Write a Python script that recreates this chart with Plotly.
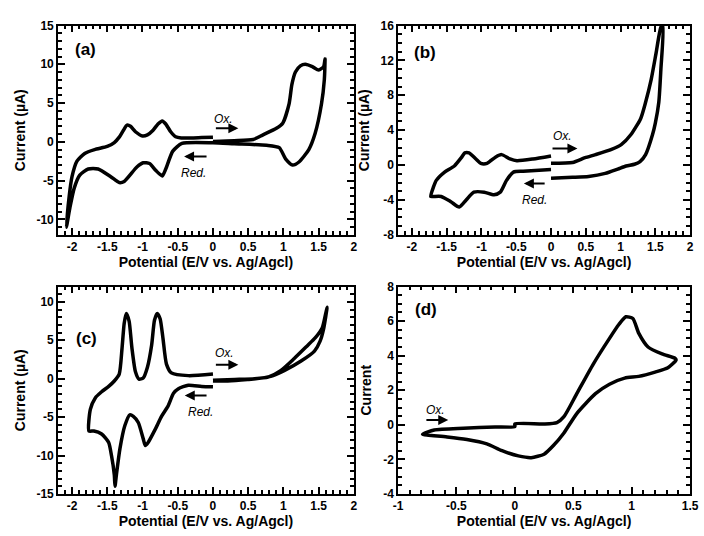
import plotly.graph_objects as go

# ---------------- data (E in V, current in uA) ----------------
a_x = [0, 0.3, 0.57, 0.71, 0.9, 0.99, 1.08, 1.12, 1.17, 1.24, 1.31, 1.41, 1.5, 1.57, 1.59,
       1.59, 1.58, 1.54, 1.45, 1.36, 1.22, 1.13, 1.03, 0.94, 0.76, 0.3, 0, -0.44, -0.57, -0.67,
       -0.72, -0.81, -0.9, -0.99, -1.08, -1.26, -1.33, -1.45, -1.63, -1.77, -1.89, -1.97, -2.03, -2.08,
       -2.04, -2.0, -1.93, -1.82, -1.68, -1.5, -1.4, -1.33, -1.27, -1.22, -1.17, -1.1, -1.0, -0.93,
       -0.85, -0.78, -0.72, -0.67, -0.6, -0.53, -0.45, -0.16, 0]
a_y = [0.05, 0.15, 0.3, 0.9, 1.75, 2.4, 4.9, 7.4, 9.0, 9.8, 10.0, 9.7, 9.25, 9.7, 10.7,
       10.5, 8.0, 4.9, 1.1, -1.0, -2.6, -3.0, -2.2, -0.75, -0.45, -0.25, -0.12, -0.2, -1.2, -3.5,
       -4.4, -3.7, -2.8, -2.7, -3.25, -5.1, -5.25, -4.5, -3.5, -3.5, -4.3, -6.0, -8.5, -11.0,
       -7.0, -4.5, -2.5, -1.5, -1.0, -0.6, -0.1, 0.6, 1.5, 2.15, 2.0, 1.3, 0.75, 0.9,
       1.5, 2.3, 2.7, 2.3, 1.3, 0.65, 0.5, 0.55, 0.6]

b_neg_x = [0, -0.26, -0.49, -0.59, -0.71, -0.8, -0.92, -1.01, -1.08, -1.18, -1.24, -1.29, -1.39,
           -1.53, -1.65, -1.69, -1.73, -1.69, -1.58, -1.44, -1.32, -1.22, -1.11, -0.96, -0.82,
           -0.73, -0.64, -0.54, -0.4, 0]
b_neg_y = [1.05, 0.7, 0.5, 0.7, 1.2, 0.9, 0.2, 0.2, 0.7, 1.4, 1.4, 0.85, -0.1,
           -0.8, -1.75, -2.5, -3.6, -3.6, -3.6, -4.2, -4.8, -4.0, -3.1, -3.1, -3.4,
           -3.1, -1.75, -0.8, -0.7, -0.5]
b_pos_x = [0, 0.31, 0.49, 0.64, 0.87, 1.01, 1.15, 1.29, 1.36, 1.44, 1.51, 1.58, 1.61,
           1.58, 1.55, 1.5, 1.46, 1.36, 1.28, 1.2, 1.08, 0.96, 0.78, 0.54, 0.31, 0]
b_pos_y = [0.2, 0.3, 0.85, 1.2, 1.8, 2.35, 3.5, 5.35, 7.2, 9.8, 12.8, 15.8, 16.0,
           11.0, 7.2, 4.8, 3.5, 1.2, 0.4, 0.1, -0.1, -0.45, -0.95, -1.3, -1.4, -1.5]

c_neg_x = [0, -0.35, -0.59, -0.66, -0.71, -0.75, -0.79, -0.83, -0.87, -0.93, -0.99, -1.05,
           -1.1, -1.15, -1.19, -1.23, -1.26, -1.29, -1.33, -1.4, -1.48, -1.58, -1.67, -1.74, -1.76,
           -1.69, -1.58, -1.48, -1.44, -1.4, -1.39, -1.37, -1.32, -1.25, -1.18, -1.13, -1.06,
           -0.99, -0.96, -0.92, -0.82, -0.73, -0.64, -0.56, -0.49, -0.35, -0.16, 0]
c_neg_y = [0.6, 0.4, 0.75, 1.9, 5.3, 7.8, 8.5, 7.6, 4.4, 1.5, 0.1, -0.05,
           0.9, 4.0, 7.5, 8.5, 7.2, 4.0, 0.6, -0.3, -1.0, -1.7, -2.5, -4.0, -6.8,
           -6.8, -7.2, -8.3, -10.0, -12.5, -14.0, -12.5, -9.1, -6.1, -4.7, -4.9, -5.7,
           -7.8, -8.7, -8.3, -6.6, -4.9, -3.6, -1.9, -1.3, -0.85, -1.0, -1.05]
c_pos_x = [0, 0.31, 0.59, 0.82, 1.01, 1.25, 1.44, 1.52, 1.57, 1.62,
           1.6, 1.55, 1.45, 1.34, 1.15, 0.96, 0.78, 0.49, 0.21, 0]
c_pos_y = [-0.2, -0.1, 0.0, 0.3, 1.05, 2.3, 3.6, 4.9, 6.5, 9.3,
           8.5, 6.6, 5.3, 4.3, 2.6, 1.05, 0.2, -0.1, -0.3, -0.3]

d_x = [-0.79, -0.69, -0.44, -0.17, 0, 0, 0.25, 0.36, 0.42, 0.53, 0.67, 0.81, 0.89, 0.95, 1.01,
       1.06, 1.14, 1.26, 1.37, 1.38, 1.31, 1.2, 1.06, 0.94, 0.81, 0.69, 0.53, 0.42, 0.33, 0.25,
       0.14, 0.03, -0.11, -0.24, -0.41, -0.58, -0.74, -0.79]
d_y = [-0.55, -0.3, -0.2, -0.13, -0.1, 0.05, 0.05, 0.13, 0.47, 1.8, 3.5, 5.0, 5.8, 6.25, 6.15,
       5.3, 4.5, 4.1, 3.85, 3.75, 3.3, 3.05, 2.8, 2.7, 2.35, 1.8, 0.65, -0.47, -1.2, -1.7,
       -1.9, -1.8, -1.5, -1.1, -0.85, -0.7, -0.6, -0.55]

# tick labels
x_ticks_abc = [-2, -1.5, -1, -0.5, 0, 0.5, 1, 1.5, 2]
x_ticks_d = [-1, -0.5, 0, 0.5, 1, 1.5]
y_ticks_a = [-10, -5, 0, 5, 10, 15]
y_ticks_b = [-8, -4, 0, 4, 8, 12, 16]
y_ticks_c = [-15, -10, -5, 0, 5, 10]
y_ticks_d = [-4, -2, 0, 2, 4, 6, 8]

panel_labels = ["(a)", "(b)", "(c)", "(d)"]
x_title = "Potential (E/V vs. Ag/Agcl)"
y_titles = ["Current (µA)", "Current (µA)", "Current (µA)", "Current"]

FONT = "Liberation Sans"
fig = go.Figure()
line = dict(color="black", width=3.5, shape="spline", smoothing=0.6)

def add(x, y, n):
    fig.add_trace(go.Scatter(x=x, y=y, mode="lines", line=line,
                             xaxis="x" if n == 1 else f"x{n}",
                             yaxis="y" if n == 1 else f"y{n}",
                             showlegend=False, hoverinfo="skip"))

add(a_x, a_y, 1)
add(b_neg_x, b_neg_y, 2)
add(b_pos_x, b_pos_y, 2)
add(c_neg_x, c_neg_y, 3)
add(c_pos_x, c_pos_y, 3)
add(d_x, d_y, 4)

left = [54 / 704, 356 / 704]
right = [401 / 704, 699 / 704]
top = [1 - 234 / 536, 1 - 19 / 536]
bot = [1 - 500 / 536, 1 - 287 / 536]

def fmt(v):
    return f"{v:g}"

def ax(domain, rng, anchor, ticks, minor, title, standoff):
    return dict(domain=domain, range=rng, anchor=anchor,
                tickmode="array", tickvals=ticks, ticktext=[fmt(v) for v in ticks],
                showline=True, linecolor="black", linewidth=1.5, mirror="allticks",
                ticks="inside", ticklen=7, tickwidth=2, tickcolor="black",
                minor=dict(ticks="inside", ticklen=4, tickwidth=1.5, tickcolor="black",
                           tickmode="linear", dtick=minor, tick0=0),
                showgrid=False, zeroline=False,
                tickfont=dict(family=FONT, size=12, color="black", weight="bold"),
                title=dict(text=title, standoff=standoff,
                           font=dict(family=FONT, size=14, color="black", weight="bold")))

fig.update_layout(
    width=704, height=536, margin=dict(l=0, r=0, t=0, b=0),
    paper_bgcolor="white", plot_bgcolor="white",
    xaxis=ax(left, [-2.2, 2], "y", x_ticks_abc, 0.1, x_title, 3),
    yaxis=ax(top, [-12, 15], "x", y_ticks_a, 1, y_titles[0], 8),
    xaxis2=ax(right, [-2.2, 2], "y2", x_ticks_abc, 0.1, x_title, 3),
    yaxis2=ax(top, [-8, 16], "x2", y_ticks_b, 1, y_titles[1], 8),
    xaxis3=ax(left, [-2.2, 2], "y3", x_ticks_abc, 0.1, x_title, 3),
    yaxis3=ax(bot, [-15, 12], "x3", y_ticks_c, 1, y_titles[2], 8),
    xaxis4=ax(right, [-1, 1.5], "y4", x_ticks_d, 0.1, x_title, 3),
    yaxis4=ax(bot, [-4, 8], "x4", y_ticks_d, 0.5, y_titles[3], 8),
)

anns = []
label_pos = [(0.093, 0.884), (0.094, 0.87), (0.096, 0.75), (0.097, 0.887)]
for i, (lab, (px, py)) in enumerate(zip(panel_labels, label_pos)):
    s = "" if i == 0 else str(i + 1)
    anns.append(dict(text=lab, x=px, y=py, xref=f"x{s} domain", yref=f"y{s} domain",
                     xanchor="center", yanchor="middle", showarrow=False,
                     font=dict(family=FONT, size=17, color="black", weight="bold")))

def arrow(s, x0, x1, y):
    anns.append(dict(text="", x=x1, y=y, ax=x0, ay=y, xref=f"x{s}", yref=f"y{s}",
                     axref=f"x{s}", ayref=f"y{s}", showarrow=True, arrowhead=2,
                     arrowsize=1, arrowwidth=2, arrowcolor="black"))

def label(s, text, x, y):
    anns.append(dict(text=text, x=x, y=y, xref=f"x{s}", yref=f"y{s}", showarrow=False,
                     xanchor="center", yanchor="middle",
                     font=dict(family=FONT, size=12, color="black", style="italic")))

arrow("", 0.02, 0.36, 1.75); label("", "Ox.", 0.15, 2.9)
arrow("", -0.07, -0.41, -1.9); label("", "Red.", -0.27, -4.0)
arrow("2", 0.0, 0.38, 1.9); label("2", "Ox.", 0.17, 3.3)
arrow("2", -0.07, -0.39, -2.1); label("2", "Red.", -0.24, -4.0)
arrow("3", 0.02, 0.36, 1.8); label("3", "Ox.", 0.16, 3.3)
arrow("3", -0.07, -0.4, -2.2); label("3", "Red.", -0.17, -4.3)
arrow("4", -0.77, -0.57, 0.28); label("4", "Ox.", -0.68, 0.85)

fig.update_layout(annotations=anns)
fig.write_html("out.html")
